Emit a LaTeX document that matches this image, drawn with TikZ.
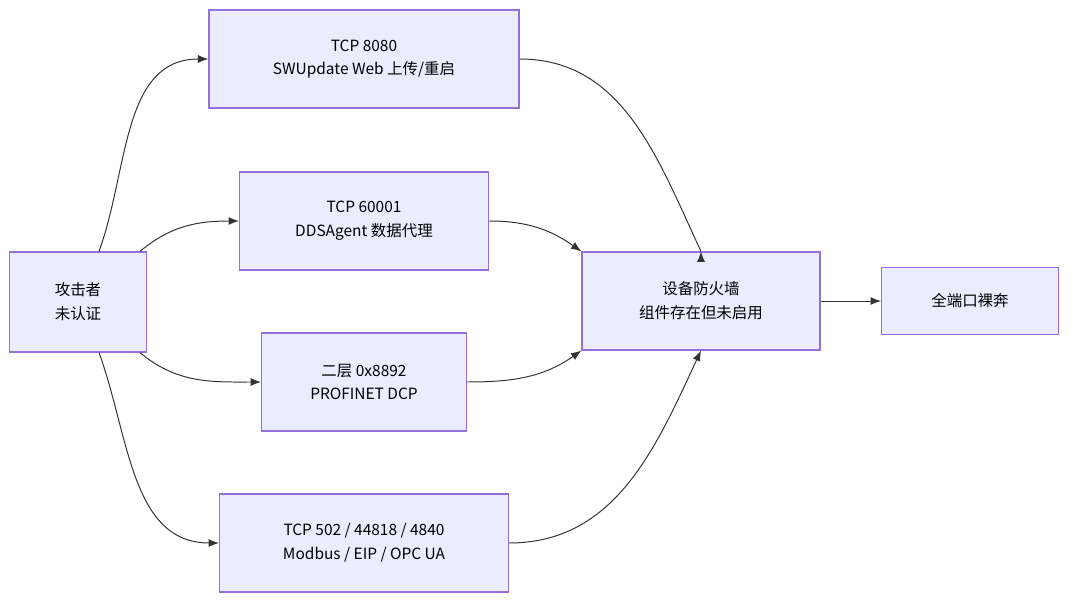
\documentclass[tikz,border=0pt]{standalone}
\usepackage{fontspec}
\setmainfont{Noto Sans CJK SC}
\usetikzlibrary{arrows.meta}
\definecolor{boxfill}{HTML}{ECECFF}
\definecolor{boxline}{HTML}{9370DB}
\tikzset{
  box/.style={draw=boxline, fill=boxfill, line width=0.8pt, align=center,
    font=\fontsize{11}{17}\selectfont, inner sep=0pt},
  link/.style={draw=black!80, line width=0.7pt, -{Latex[length=2.6mm,width=2mm]}}
}
\begin{document}
\begin{tikzpicture}[x=0.025cm, y=-0.025cm]
  \useasboundingbox (0,0) rectangle (1080,610);
  \node[box, minimum width=3.42cm, minimum height=2.5cm] (att) at (78,302) {攻击者\\未认证};
  \node[box, minimum width=7.75cm, minimum height=2.45cm] (web) at (364,59) {TCP 8080\\SWUpdate Web 上传/重启};
  \node[box, minimum width=6.22cm, minimum height=2.45cm] (dds) at (364,221) {TCP 60001\\DDSAgent 数据代理};
  \node[box, minimum width=5.12cm, minimum height=2.45cm] (dcp) at (364,382) {二层 0x8892\\PROFINET DCP};
  \node[box, minimum width=7.22cm, minimum height=2.45cm] (ind) at (364,543) {TCP 502 / 44818 / 4840\\Modbus / EIP / OPC UA};
  \node[box, minimum width=5.95cm, minimum height=2.45cm] (fw) at (701,301) {设备防火墙\\组件存在但未启用};
  \node[box, minimum width=4.42cm, minimum height=1.68cm] (open) at (970,301) {全端口裸奔};

  \draw[link] (att.north west) ++(90,0) coordinate (a1) (a1) to[out=70, in=180] (web.west);
  \draw[link] (att.north east) ++(-7,0) coordinate (a2) (a2) to[out=40, in=180] (dds.west);
  \draw[link] (att.south east) ++(-7,0) coordinate (a3) (a3) to[out=-40, in=180] (dcp.west);
  \draw[link] (att.south west) ++(90,0) coordinate (a4) (a4) to[out=-70, in=180] (ind.west);

  \draw[link] (web.east) to[out=0, in=115] (fw.north west -| fw.north) ++(0,0);
  \draw[link] (dds.east) to[out=0, in=145] (fw.north west);
  \draw[link] (dcp.east) to[out=0, in=215] (fw.south west);
  \draw[link] (ind.east) to[out=0, in=245] (fw.south);
  \draw[link] (fw) -- (open);
\end{tikzpicture}
\end{document}
